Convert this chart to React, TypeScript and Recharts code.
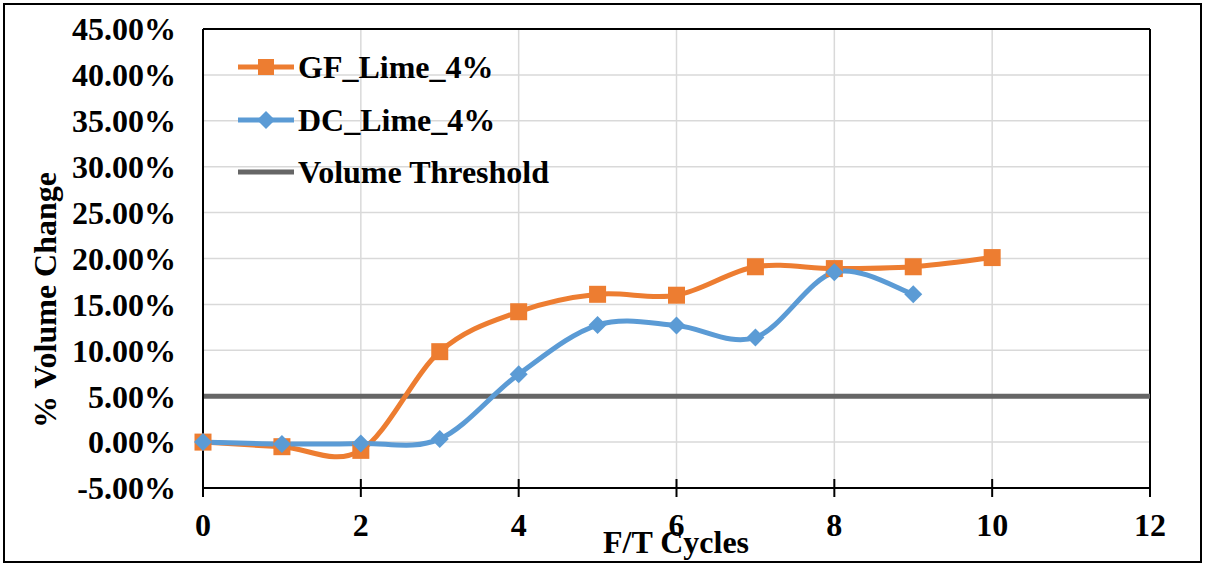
import React from "react";
import {
  LineChart,
  Line,
  XAxis,
  YAxis,
  CartesianGrid,
  Legend,
  ReferenceLine,
  Label,
} from "recharts";

// F/T cycles and % volume change
const cycles = [0, 1, 2, 3, 4, 5, 6, 7, 8, 9, 10, 11, 12];
const gfLime = [0, -0.5, -0.9, 9.85, 14.2, 16.1, 16.0, 19.1, 18.9, 19.1, 20.1];
const dcLime = [0, -0.2, -0.15, 0.35, 7.4, 12.75, 12.7, 11.4, 18.5, 16.1];
const thresholdValue = 5;

const xTicks = [0, 2, 4, 6, 8, 10, 12];
const yTicks = [-5, 0, 5, 10, 15, 20, 25, 30, 35, 40, 45];

const ORANGE = "#ED7D31";
const BLUE = "#5B9BD5";
const GREY = "#666666";
const FONT = "'Liberation Serif', 'Times New Roman', serif";

const rows = cycles.map((c, i) => ({
  cycle: c,
  gf: i < gfLime.length ? gfLime[i] : null,
  dc: i < dcLime.length ? dcLime[i] : null,
  threshold: thresholdValue,
}));

// Excel-style smoothed line (cardinal spline, bezier handles at 1/6)
function excelSmooth(context: any) {
  let pts: number[][] = [];
  return {
    areaStart() {},
    areaEnd() {},
    lineStart() {
      pts = [];
    },
    point(x: number, y: number) {
      pts.push([+x, +y]);
    },
    lineEnd() {
      if (!pts.length) return;
      context.moveTo(pts[0][0], pts[0][1]);
      for (let i = 0; i < pts.length - 1; i++) {
        const p0 = pts[i - 1] || pts[i];
        const p1 = pts[i];
        const p2 = pts[i + 1];
        const p3 = pts[i + 2] || p2;
        context.bezierCurveTo(
          p1[0] + (p2[0] - p0[0]) / 6,
          p1[1] + (p2[1] - p0[1]) / 6,
          p2[0] - (p3[0] - p1[0]) / 6,
          p2[1] - (p3[1] - p1[1]) / 6,
          p2[0],
          p2[1]
        );
      }
    },
  };
}

function SquareDot(props: any) {
  const { cx, cy, value, index } = props;
  if (value == null || cy == null) return <g key={`sq-${index}`} />;
  return <rect key={`sq-${index}`} x={cx - 8.5} y={cy - 8.5} width={17} height={17} fill={ORANGE} />;
}

function DiamondDot(props: any) {
  const { cx, cy, value, index } = props;
  if (value == null || cy == null) return <g key={`dm-${index}`} />;
  const r = 9;
  return (
    <polygon
      key={`dm-${index}`}
      points={`${cx},${cy - r} ${cx + r},${cy} ${cx},${cy + r} ${cx - r},${cy}`}
      fill={BLUE}
    />
  );
}

function XTick({ x, y, payload }: any) {
  return (
    <g>
      <line x1={x} x2={x} y1={y - 9} y2={y + 9} stroke="#000" strokeWidth={2} />
      <text
        x={x}
        y={y + 48}
        textAnchor="middle"
        fontFamily={FONT}
        fontWeight="bold"
        fontSize={32}
        fill="#000"
      >
        {payload.value}
      </text>
    </g>
  );
}

const legendItems = [
  { name: "GF_Lime_4%", color: ORANGE, marker: "square" },
  { name: "DC_Lime_4%", color: BLUE, marker: "diamond" },
  { name: "Volume Threshold", color: GREY, marker: "none" },
];

function LegendBox() {
  return (
    <div style={{ fontFamily: FONT, fontWeight: "bold", fontSize: 32, color: "#000" }}>
      {legendItems.map((item) => (
        <div key={item.name} style={{ display: "flex", alignItems: "center", height: 52.5 }}>
          <svg width={56} height={20} style={{ marginRight: 4 }}>
            <line x1={0} x2={56} y1={10} y2={10} stroke={item.color} strokeWidth={5} strokeLinecap="round" />
            {item.marker === "square" && <rect x={20} y={2} width={16} height={16} fill={item.color} />}
            {item.marker === "diamond" && <polygon points="28,1 37,10 28,19 19,10" fill={item.color} />}
          </svg>
          <span style={{ whiteSpace: "nowrap", lineHeight: 1 }}>{item.name}</span>
        </div>
      ))}
    </div>
  );
}

export default function App() {
  return (
    <div style={{ position: "absolute", left: 0, top: 0, width: 1208, height: 567, background: "#fff" }}>
      <LineChart width={1208} height={567} data={rows} margin={{ top: 29, right: 58, bottom: 0, left: 0 }}>
        <CartesianGrid stroke="#d9d9d9" strokeWidth={1.5} />
        <XAxis
          dataKey="cycle"
          type="number"
          domain={[0, 12]}
          ticks={xTicks}
          height={79}
          tickSize={0}
          tickMargin={0}
          tickLine={false}
          axisLine={{ stroke: "#000", strokeWidth: 2 }}
          tick={<XTick />}
          interval={0}
        >
          <Label
            content={() => (
              <text x={676} y={553} textAnchor="middle" fontFamily={FONT} fontWeight="bold" fontSize={32} fill="#000">
                F/T Cycles
              </text>
            )}
          />
        </XAxis>
        <YAxis
          type="number"
          domain={[-5, 45]}
          ticks={yTicks}
          width={203}
          tickSize={0}
          tickMargin={27}
          tickLine={false}
          axisLine={{ stroke: "#000", strokeWidth: 2 }}
          tickFormatter={(v: number) => `${v.toFixed(2)}%`}
          tick={{ fontFamily: FONT, fontWeight: "bold", fontSize: 32, fill: "#000" }}
          interval={0}
        >
          <Label
            content={() => (
              <text
                x={45}
                y={300}
                transform="rotate(-90 45 300)"
                textAnchor="middle"
                dominantBaseline="central"
                fontFamily={FONT}
                fontWeight="bold"
                fontSize={32}
                fill="#000"
              >
                % Volume Change
              </text>
            )}
          />
        </YAxis>
        <ReferenceLine y={45} stroke="#000" strokeWidth={2} />
        <ReferenceLine x={12} stroke="#000" strokeWidth={2} />
        <Legend
          layout="vertical"
          align="center"
          verticalAlign="middle"
          content={() => <LegendBox />}
          wrapperStyle={{ left: 238, top: 41, width: 400, height: 160 }}
        />
        <Line
          dataKey="threshold"
          name="Volume Threshold"
          stroke={GREY}
          strokeWidth={5}
          dot={false}
          type="linear"
          isAnimationActive={false}
        />
        <Line
          dataKey="gf"
          name="GF_Lime_4%"
          stroke={ORANGE}
          strokeWidth={5}
          type={excelSmooth as any}
          dot={(p: any) => <SquareDot {...p} />}
          activeDot={false}
          isAnimationActive={false}
        />
        <Line
          dataKey="dc"
          name="DC_Lime_4%"
          stroke={BLUE}
          strokeWidth={5}
          type={excelSmooth as any}
          dot={(p: any) => <DiamondDot {...p} />}
          activeDot={false}
          isAnimationActive={false}
        />
      </LineChart>
      <div
        style={{
          position: "absolute",
          left: 3,
          top: 3,
          width: 1199,
          height: 560,
          border: "2px solid #000",
          boxSizing: "border-box",
          pointerEvents: "none",
        }}
      />
    </div>
  );
}
